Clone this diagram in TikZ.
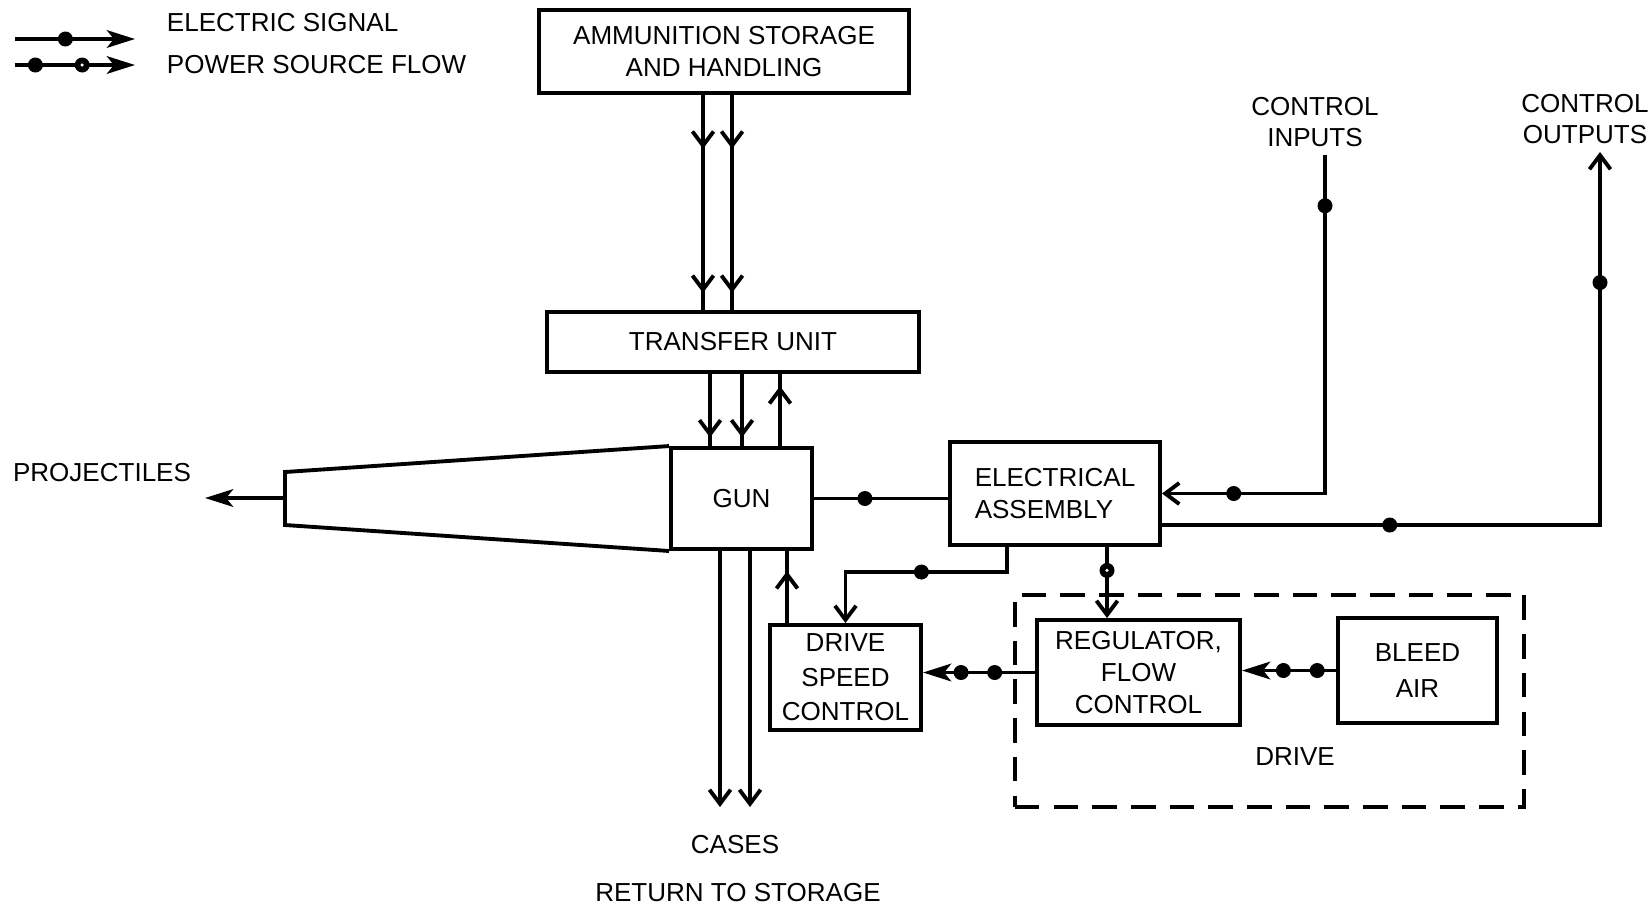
\documentclass[tikz,border=0pt]{standalone}
\usepackage{fontspec}
\setmainfont{Liberation Sans}
\usetikzlibrary{arrows.meta,decorations.markings,positioning}

\tikzset{
  blk/.style={draw,line width=1.1pt,inner sep=0pt,align=center,font=\fontsize{7.4}{9.2}\selectfont},
  lbl/.style={inner sep=0pt,align=center,font=\fontsize{7.4}{8.6}\selectfont},
  dot/.style={circle,fill=black,inner sep=0pt,minimum size=0.15cm},
  ringdot/.style={dot,path picture={\fill[white] (path picture bounding box.center) circle (0.5pt);}},
  powertip/.tip={Stealth[length=8pt,width=5pt,inset=2pt]},
  flowtip/.tip={Straight Barb[length=4pt,width=6pt]},
  onearrow/.style={postaction={decorate},decoration={markings,
    mark=at position #1 with {\arrow{Straight Barb[length=4pt,width=6pt]}}}},
  twoarrows/.style 2 args={postaction={decorate},decoration={markings,
    mark=at position #1 with {\arrow{Straight Barb[length=4pt,width=6pt]}},
    mark=at position #2 with {\arrow{Straight Barb[length=4pt,width=6pt]}}}}
}

\begin{document}
\begin{tikzpicture}[x=0.01cm,y=-0.01cm,line width=1.1pt]
\useasboundingbox (0,0) rectangle (1649,911);

% legend
\coordinate (es) at (15,39);
\coordinate (ese) at (135,39);
\draw[-powertip] (es) -- node[dot,pos=0.42]{} (ese);
\node[lbl,anchor=west] (eslbl) at (165,23) {ELECTRIC SIGNAL};
\coordinate (ps) at (15,65);
\coordinate (pse) at (135,65);
\draw[-powertip] (ps) -- node[dot,pos=0.17]{} node[ringdot,pos=0.56]{} (pse);
\node[lbl,anchor=west] (pslbl) at (165,65) {POWER SOURCE FLOW};

% blocks
\node[draw,dash pattern=on 7pt off 4pt,minimum width=5.09cm,minimum height=2.12cm] (drivebox) at (1269.5,701) {};
\node[blk,minimum width=3.7cm,minimum height=0.83cm] (ammo) at (724,51.5) {AMMUNITION STORAGE\\AND HANDLING};
\node[blk,minimum width=3.72cm,minimum height=0.6cm] (tu) at (733,342) {TRANSFER UNIT};
\node[blk,minimum width=1.41cm,minimum height=1.01cm] (gun) at (741.5,498.5) {GUN};
\node[blk,minimum width=2.1cm,minimum height=1.03cm,align=left] (ea) at (1055,493.5) {ELECTRICAL\\ASSEMBLY};
\node[blk,minimum width=1.51cm,minimum height=1.05cm,font=\fontsize{7.4}{9.8}\selectfont] (dsc) at (845.5,677.5) {DRIVE\\SPEED\\CONTROL};
\node[blk,minimum width=2.03cm,minimum height=1.05cm] (reg) at (1138.5,672.5) {REGULATOR,\\FLOW\\CONTROL};
\node[blk,minimum width=1.59cm,minimum height=1.05cm,font=\fontsize{7.4}{10}\selectfont] (bleed) at (1417.5,670.5) {BLEED\\AIR};

% barrel
\coordinate (bt) at (285,472);
\coordinate (bb) at (285,525);
\draw (gun.north west) -- (bt) -- (bb) -- (gun.south west);
\coordinate (projend) at (205,498);
\draw[-powertip] (projend -| bt) -- (projend);
\node[lbl] (projlbl) at (102,473) {PROJECTILES};

% ammunition flow
\coordinate (a1) at (703,0);
\coordinate (a2) at (732,0);
\draw[twoarrows={0.25}{0.92}] (ammo.south -| a1) -- (tu.north -| a1);
\draw[twoarrows={0.25}{0.92}] (ammo.south -| a2) -- (tu.north -| a2);
\coordinate (t1) at (710,0);
\coordinate (t2) at (742,0);
\coordinate (t3) at (780,0);
\draw[onearrow=0.88] (tu.south -| t1) -- (gun.north -| t1);
\draw[onearrow=0.88] (tu.south -| t2) -- (gun.north -| t2);
\draw[onearrow=0.83] (gun.north -| t3) -- (tu.south -| t3);
\coordinate (c1) at (720,807);
\coordinate (c2) at (750,807);
\draw[-flowtip] (gun.south -| c1) -- (c1);
\draw[-flowtip] (gun.south -| c2) -- (c2);
\node[lbl] (caseslbl) at (735,845) {CASES};
\node[lbl] (retlbl) at (738,893) {RETURN TO STORAGE};
\coordinate (d1) at (787,0);
\draw[onearrow=0.72] (dsc.north -| d1) -- (gun.south -| d1);

% signals
\draw (gun.east) -- node[dot,pos=0.38]{} (gun.east -| ea.west);
\coordinate (ci) at (1325,155);
\node[lbl] (cinlbl) at (1315,122) {CONTROL\\INPUTS};
\draw[-flowtip] (ci) -- node[dot,pos=0.15]{} (ci |- ea.east) -- node[dot,pos=0.56]{} (ea.east);
\coordinate (co) at (1600,152);
\node[lbl] (coutlbl) at (1585,119) {CONTROL\\OUTPUTS};
\coordinate (eao) at ([yshift=-0.315cm]ea.east);
\draw[-flowtip] (eao) -- node[dot,pos=0.52]{} (eao -| co) -- node[dot,pos=0.65]{} (co);
\coordinate (eal) at (1007,572);
\draw[-flowtip] (ea.south -| eal) -- (eal) -- node[dot,pos=0.53]{} (eal -| dsc.north) -- (dsc.north);
\coordinate (ear) at (1107,0);
\draw[-flowtip] (ea.south -| ear) -- node[ringdot,pos=0.33]{} (reg.north -| ear);

% power
\draw[-powertip] (bleed.west) -- node[dot,pos=0.2]{} node[dot,pos=0.56]{} (bleed.west -| reg.east);
\draw[-powertip] (reg.west) -- node[dot,pos=0.36]{} node[dot,pos=0.66]{} (reg.west -| dsc.east);
\node[lbl] (drvlbl) at (1295,757) {DRIVE};
\end{tikzpicture}
\end{document}
